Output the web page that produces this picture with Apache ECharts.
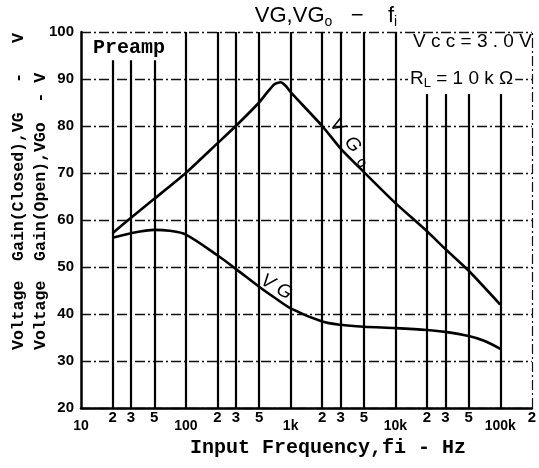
<!DOCTYPE html>
<html>
<head>
<meta charset="utf-8">
<script src="https://cdn.jsdelivr.net/npm/echarts@6/dist/echarts.min.js"></script>
<style>
html,body{margin:0;padding:0;background:#fff;}
#chart{width:539px;height:468px;}
</style>
</head>
<body>
<div id="chart"></div>
<script>
// ---- data ----
const tickFreqs = [10,20,30,50,100,200,300,500,1000,2000,3000,5000,10000,20000,30000,50000,100000,200000];
const tickLabels = ['10','2','3','5','100','2','3','5','1k','2','3','5','10k','2','3','5','100k','2'];
const yTicks = [20,30,40,50,60,70,80,90,100];

const vgoFreq = [20,30,50,100,200,300,500,600,700,800,900,1000,2000,3000,5000,10000,20000,30000,50000,100000];
const vgoVals = [57.2,60.5,64.5,70.0,76.3,80.0,85.0,87.2,88.9,89.3,88.5,87.2,80.0,75.2,70.2,63.6,57.6,53.8,49.2,42.0];

const vgFreq = [20,30,50,70,100,200,300,500,700,1000,2000,3000,5000,10000,20000,30000,50000,70000,100000];
const vgVals = [56.2,57.2,57.9,57.7,56.9,52.5,49.6,45.8,43.5,41.2,38.4,37.7,37.3,37.0,36.6,36.2,35.3,34.3,32.6];

const gridFreqs = [20,30,50,100,200,300,500,1000,2000,3000,5000,10000,20000,30000,50000,100000];
const gridTops  = [94,94,94,100,100,100,100,100,100,100,100,100,86.8,86.8,86.8,86.8];

// ---- build ----
const lg = Math.log10;
const labelMap = {};
tickFreqs.forEach((f,i)=>{ labelMap[f] = tickLabels[i]; });
const majorSet = new Set(['10','100','1k','10k','100k']);

const vgoData = vgoFreq.map((f,i)=>[lg(f), vgoVals[i]]);
const vgData = vgFreq.map((f,i)=>[lg(f), vgVals[i]]);

const gridLines = gridFreqs.map((f,i)=>[{coord:[lg(f),20]},{coord:[lg(f),gridTops[i]]}]);
const xMax = lg(200000);

const chart = echarts.init(document.getElementById('chart'), null, {renderer:'canvas'});
const monoB = 'bold 20px "Liberation Mono"';
const subStyle = (size)=>({fontFamily:'Liberation Sans',fontSize:size,fill:'#000',lineHeight:size,verticalAlign:'bottom'});
chart.setOption({
  animation:false,
  backgroundColor:'#fff',
  grid:{left:81,right:0,top:32,bottom:60,show:false},
  xAxis:{
    type:'value', min:1, max:xMax,
    axisLine:{show:true,onZero:false,lineStyle:{color:'#000',width:2.5}},
    axisTick:{show:false},
    splitLine:{show:false},
    axisLabel:{
      customValues: tickFreqs.map(f=>lg(f)),
      margin:2,
      showMinLabel:true, showMaxLabel:true,
      formatter:function(v){
        const f = Math.round(Math.pow(10,v));
        const t = labelMap[f] || '';
        return majorSet.has(t) ? '{d|'+t+'}' : '{m|'+t+'}';
      },
      rich:{
        m:{fontFamily:'Liberation Sans',fontWeight:'bold',fontSize:15,color:'#000',lineHeight:15},
        d:{fontFamily:'Liberation Sans',fontWeight:'bold',fontSize:14,color:'#000',lineHeight:32}
      }
    }
  },
  yAxis:{
    type:'value', min:yTicks[0], max:yTicks[yTicks.length-1], interval:10,
    axisLine:{show:true,lineStyle:{color:'#000',width:2.5}},
    axisTick:{show:false},
    axisLabel:{margin:7,color:'#000',fontFamily:'Liberation Sans',fontWeight:'bold',fontSize:15},
    splitLine:{show:true,lineStyle:{color:'#111',width:1.3,type:[10,3,2,3]}}
  },
  series:[
    {type:'line',data:[],silent:true,
      markLine:{silent:true,symbol:'none',label:{show:false},animation:false,
        lineStyle:{color:'#000',width:2.2,type:'solid'},
        data:gridLines}},
    {type:'line',data:[],silent:true,
      markLine:{silent:true,symbol:'none',label:{show:false},animation:false,
        lineStyle:{color:'#111',width:1.2,type:[10,3,2,3]},
        data:[[{coord:[xMax,20]},{coord:[xMax,100]}]]}},
    {name:'VGo',type:'line',data:vgoData,smooth:0.2,showSymbol:false,
      lineStyle:{color:'#000',width:2.6},z:5},
    {name:'VG',type:'line',data:vgData,smooth:0.3,showSymbol:false,
      lineStyle:{color:'#000',width:2.6},z:5}
  ],
  graphic:[
    {type:'text',x:326,y:16,z:100,style:{
      text:'{a|VG,VG}{s|o}{a|   −    f}{s|i}',
      textAlign:'center',textVerticalAlign:'middle',
      rich:{a:{fontFamily:'Liberation Sans',fontSize:22,fill:'#000',lineHeight:26},
            s:subStyle(14)}}},
    {type:'text',x:93,y:48,z:100,style:{text:'Preamp',font:monoB,fill:'#000',textAlign:'left',textVerticalAlign:'middle'}},
    {type:'text',x:413,y:42,z:100,style:{text:'V c c = 3 . 0 V',font:'19px "Liberation Sans"',fill:'#000',textAlign:'left',textVerticalAlign:'middle'}},
    {type:'text',x:408,y:79,z:100,style:{
      text:'{a|R}{s|L}{a| = 1 0 k Ω}',textAlign:'left',textVerticalAlign:'middle',
      backgroundColor:'#fff',padding:[0,2,0,2],
      rich:{a:{fontFamily:'Liberation Sans',fontSize:19,fill:'#000',lineHeight:22},
            s:subStyle(13)}}},
    {type:'text',x:333,y:121,z:100,rotation:-0.88,style:{
      text:'{a|V  G}{s|  o}',textAlign:'left',textVerticalAlign:'middle',
      rich:{a:{fontFamily:'Liberation Sans',fontStyle:'italic',fontSize:19,fill:'#000',lineHeight:24},
            s:subStyle(15)}}},
    {type:'text',x:262,y:279,z:100,rotation:-0.52,style:{
      text:'V G',font:'italic 19px "Liberation Sans"',fill:'#000',textAlign:'left',textVerticalAlign:'middle'}},
    {type:'text',x:190,y:448,z:100,style:{text:'Input Frequency,fi - Hz',font:monoB,fill:'#000',textAlign:'left',textVerticalAlign:'middle'}},
    {type:'text',x:19,y:350,z:100,rotation:Math.PI/2,style:{text:'Voltage  Gain(Closed),VG   -   V',font:'bold 16.5px "Liberation Mono"',fill:'#000',textAlign:'left',textVerticalAlign:'middle'}},
    {type:'text',x:41,y:350,z:100,rotation:Math.PI/2,style:{text:'Voltage  Gain(Open),VGo  - V',font:'bold 16.5px "Liberation Mono"',fill:'#000',textAlign:'left',textVerticalAlign:'middle'}}
  ]
});
</script>
</body>
</html>
